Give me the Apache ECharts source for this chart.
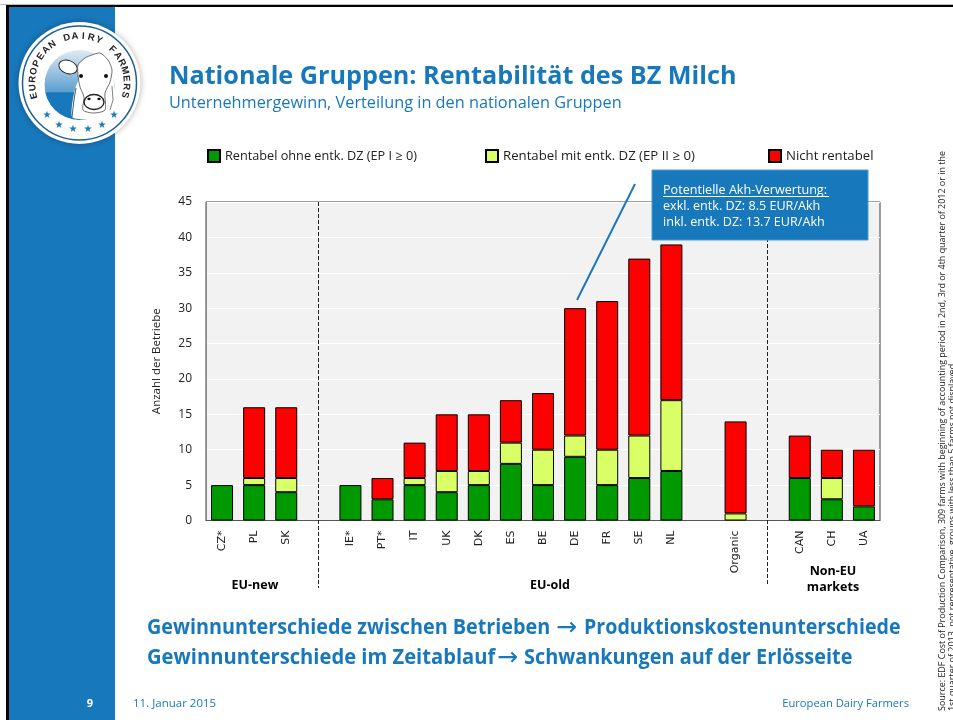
<!DOCTYPE html>
<html><head><meta charset="utf-8">
<style>html,body{margin:0;padding:0;background:#fff}#c{width:953px;height:720px}</style>
<script src="https://cdn.jsdelivr.net/npm/echarts@6/dist/echarts.min.js"></script>
</head><body><div id="c"></div>
<script>
const categories=['CZ*','PL','SK',' ','IE*','PT*','IT','UK','DK','ES','BE','DE','FR','SE','NL','  ','Organic','   ','CAN','CH','UA'];
const rentabelOhne=[5,5,4,null,5,3,5,4,5,8,5,9,5,6,7,null,null,null,6,3,2];
const rentabelMit=[null,1,2,null,null,null,1,3,2,3,5,3,5,6,10,null,1,null,null,3,null];
const nichtRentabel=[null,10,10,null,null,3,5,8,8,6,8,18,21,25,22,null,13,null,6,4,8];
const yTicks=[0,5,10,15,20,25,30,35,40,45];
const seriesNames=['Rentabel ohne entk. DZ (EP I \u2265 0)','Rentabel mit entk. DZ (EP II \u2265 0)','Nicht rentabel'];
const BLUE='#1878BC',F='"Open Sans","Noto Sans",sans-serif';
const chart=echarts.init(document.getElementById('c'),null,{renderer:'canvas'});
function bar(name,data,color){return {name,type:'bar',stack:'a',data,barWidth:22,z:3,
  itemStyle:{color,borderColor:'#000',borderWidth:1}};}
const s0=bar(seriesNames[0],rentabelOhne,'#009900');
s0.markLine={silent:true,symbol:'none',z:2,label:{show:false},
  lineStyle:{color:'#222',type:[4,2],width:1},
  data:[[{xAxis:' ',y:202},{xAxis:' ',y:588}],[{xAxis:'   ',y:202},{xAxis:'   ',y:586}]]};
function t(x,y,text,size,color,extra){return {type:'text',z:20,x,y,style:Object.assign({text,fill:color,font:size+'px '+F,textVerticalAlign:'middle'},extra||{})};}
function seg(x,y,text,sx){return {type:'text',z:20,x,y,scaleX:sx,style:{text,fill:BLUE,font:'bold 21px '+F,textVerticalAlign:'middle'}};}
function arrow(x,y){return {type:'text',z:20,x,y,style:{text:'\u2192',fill:BLUE,font:'25px "DejaVu Sans"',textVerticalAlign:'middle'}};}
function arc(str,cx,cy,r,startDeg,stepDeg){
  return str.split('').map((ch,i)=>{const a=(startDeg+i*stepDeg)*Math.PI/180;
    return {type:'text',z:22,x:cx+r*Math.sin(a),y:cy-r*Math.cos(a),rotation:-a,
      style:{text:ch,fill:'#222',font:'bold 9.5px "Liberation Sans"',textAlign:'center',textVerticalAlign:'middle'}};});
}
const lcx=79.5,lcy=83;
const starPos=[[47,115],[59,125],[73,129],[88,129],[102,125],[114,115]];
const graphicEls=[
 {type:'rect',z:0,shape:{x:0,y:4,width:953,height:1},style:{fill:'#bdbdbd'}},
 {type:'rect',z:0,shape:{x:6,y:5,width:947,height:2},style:{fill:'#000'}},
 {type:'rect',z:0,shape:{x:6,y:5,width:3,height:715},style:{fill:'#000'}},
 {type:'rect',z:0,shape:{x:9,y:7,width:106,height:713},style:{fill:BLUE}},
 // badge
 {type:'circle',z:21,shape:{cx:lcx,cy:lcy,r:61},style:{fill:'#fff',shadowBlur:6,shadowColor:'rgba(0,0,0,.3)'}},
 {type:'circle',z:21,shape:{cx:lcx,cy:lcy,r:57},style:{fill:'#fff',stroke:'#1d5f92',lineWidth:1.5}},
 {type:'circle',z:21,shape:{cx:lcx,cy:lcy+2,r:35},style:{fill:new echarts.graphic.LinearGradient(0,0,0,1,[{offset:0,color:'#dfeaf4'},{offset:.6,color:'#5b9fd0'},{offset:.61,color:BLUE},{offset:1,color:BLUE}])}},
 {type:'polygon',z:21,shape:{smooth:0.2,points:[[76,86],[72,117],[90,119],[112,108],[114,84],[112,60],[95,55]]},style:{fill:'#fff'}},
 {type:'ellipse',z:22,x:68,y:67,rotation:-0.35,shape:{cx:0,cy:0,rx:9.5,ry:6.5},style:{fill:'#fff',stroke:'#222',lineWidth:1}},
 {type:'polygon',z:22,shape:{smooth:0.25,points:[[78,65],[85,58],[92,55],[100,53],[108,60],[112,70],[110,82],[105,93],[105,110],[93,113],[83,110],[84,97],[80,87],[78,75]]},style:{fill:'#fff',stroke:'#333',lineWidth:0.7}},
 {type:'polyline',z:22,shape:{points:[[76,88],[74,100],[72,117]]},style:{stroke:'#444',lineWidth:0.9,fill:'none'}},
 {type:'polyline',z:22,shape:{points:[[112,86],[113,100],[110,110]]},style:{stroke:'#666',lineWidth:0.8,fill:'none'}},
 {type:'ellipse',z:22,shape:{cx:94,cy:102,rx:10,ry:7.5},style:{fill:'#fff',stroke:'#222',lineWidth:1.4}},
 {type:'ellipse',z:22,shape:{cx:89,cy:99,rx:1.7,ry:1.2},style:{fill:'#111'}},
 {type:'ellipse',z:22,shape:{cx:99,cy:99,rx:1.7,ry:1.2},style:{fill:'#111'}},
 {type:'circle',z:22,shape:{cx:81,cy:76,r:2},style:{fill:'#111'}},
 {type:'circle',z:22,shape:{cx:106,cy:76,r:2},style:{fill:'#111'}},
 ...arc('EUROPEAN DAIRY FARMERS',lcx,lcy,47,-105.5,10),
 ...starPos.map(p=>({type:'text',z:22,x:p[0],y:p[1],style:{text:'\u2605',fill:BLUE,font:'10px "DejaVu Sans"',textAlign:'center',textVerticalAlign:'middle'}})),
 // headings
 t(169,77,'Nationale Gruppen: Rentabilit\u00e4t des BZ Milch',25.2,BLUE,{font:'bold 25.2px '+F}),
 t(169,103,'Unternehmergewinn, Verteilung in den nationalen Gruppen',16.3,BLUE),
 // callout
 {type:'line',z:19,shape:{x1:635,y1:184,x2:577,y2:300},style:{stroke:BLUE,lineWidth:2}},
 {type:'rect',z:19,shape:{x:652,y:170,width:216,height:70},style:{fill:BLUE,stroke:'#4d9ad2',lineWidth:1}},
 t(663,190.5,'Potentielle Akh-Verwertung:',12.6,'#fff'),
 {type:'line',z:20,shape:{x1:663,y1:196.5,x2:829,y2:196.5},style:{stroke:'#fff',lineWidth:1}},
 t(663,206.5,'exkl. entk. DZ: 8.5 EUR/Akh',12.6,'#fff'),
 t(663,222.5,'inkl. entk. DZ: 13.7 EUR/Akh',12.6,'#fff'),
 // group labels
 t(255,585,'EU-new',12.5,'#000',{font:'bold 12.5px '+F,textAlign:'center'}),
 t(550,585,'EU-old',12.5,'#000',{font:'bold 12.5px '+F,textAlign:'center'}),
 t(833,571,'Non-EU',12.5,'#000',{font:'bold 12.5px '+F,textAlign:'center'}),
 t(833,587,'markets',12.5,'#000',{font:'bold 12.5px '+F,textAlign:'center'}),
 // takeaways
 seg(147,628,'Gewinnunterschiede zwischen Betrieben',0.942),
 arrow(556,628),
 seg(584,628,'Produktionskostenunterschiede',0.935),
 seg(147,658.5,'Gewinnunterschiede im Zeitablauf',0.96),
 arrow(497,658.5),
 seg(524,658.5,'Schwankungen auf der Erl\u00f6sseite',0.945),
 // footer
 t(90,704,'9',11,'#fff',{font:'bold 11px '+F,textAlign:'center'}),
 t(133,704,'11. Januar 2015',11.5,BLUE),
 t(909,704,'European Dairy Farmers',11.2,BLUE,{textAlign:'right'}),
 // source
 {type:'text',z:20,x:942,y:711,rotation:Math.PI/2,style:{text:'Source: EDF Cost of Production Comparison, 309 farms with beginning of accounting period in 2nd, 3rd or 4th quarter of 2012 or in the',fill:'#222',font:'8.95px '+F,textVerticalAlign:'middle'}},
 {type:'text',z:20,x:952,y:711,rotation:Math.PI/2,style:{text:'1st quarter of 2013, not representative, groups with less than 5 farms not displayed',fill:'#222',font:'8.95px '+F,textVerticalAlign:'middle'}}
];
chart.setOption({
 animation:false,backgroundColor:'#fff',
 textStyle:{fontFamily:F},
 grid:{left:206,top:202,width:674,height:318.5,show:true,backgroundColor:'#f2f2f2',borderColor:'#404040',borderWidth:1,containLabel:false},
 legend:[0,1,2].map(i=>({data:[seriesNames[i]],left:[207,485,768][i],top:149,padding:0,icon:'rect',itemWidth:12,itemHeight:12,itemGap:7,
   textStyle:{fontSize:[12.7,13.2,13.2][i],color:'#222',fontFamily:F},selectedMode:false})),
 xAxis:{type:'category',data:categories,
   axisTick:{show:false},axisLine:{show:true,lineStyle:{color:'#555',width:1}},
   axisLabel:{rotate:90,interval:0,fontFamily:'"DejaVu Sans"',fontSize:11,color:'#222',margin:10}},
 yAxis:{type:'value',min:0,max:45,interval:5,name:'Anzahl der Betriebe',nameLocation:'middle',nameGap:43,nameRotate:90,
   nameTextStyle:{fontSize:11.5,color:'#222'},
   axisLabel:{fontSize:12,color:'#222',margin:14,formatter:v=>yTicks.includes(v)?String(v):''},
   axisLine:{show:true,lineStyle:{color:'#888'}},axisTick:{show:false},
   splitLine:{show:true,lineStyle:{color:'#fff',width:1}}},
 series:[s0,bar(seriesNames[1],rentabelMit,'#D9FF66'),bar(seriesNames[2],nichtRentabel,'#FF0000')],
 graphic:{elements:graphicEls}
});
</script></body></html>
